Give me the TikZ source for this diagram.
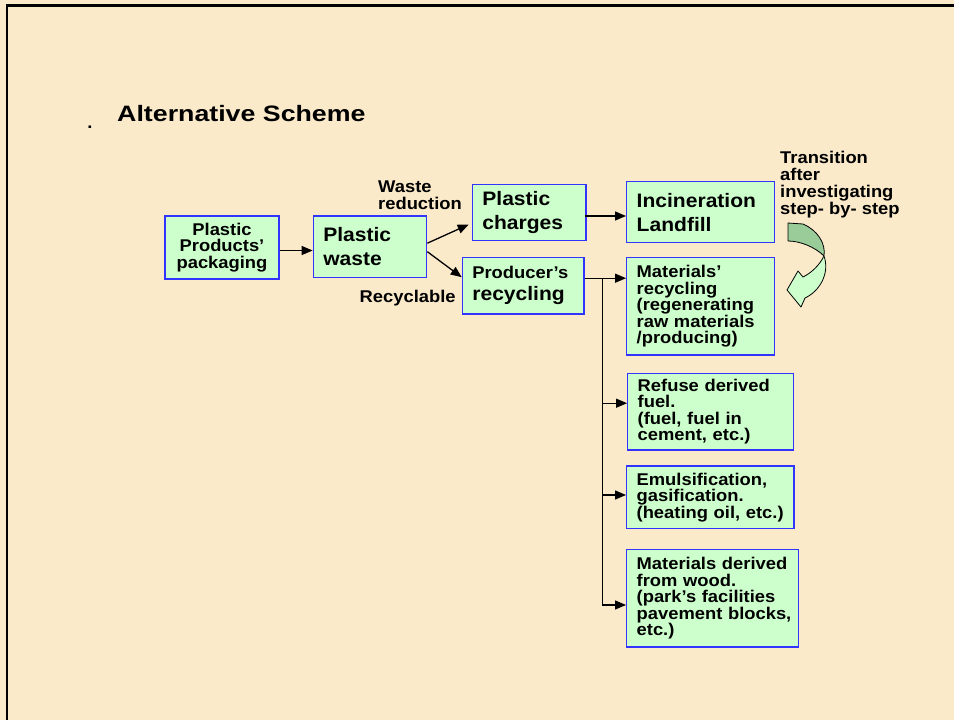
\documentclass[tikz,border=0pt]{standalone}
\usepackage{fontspec}
\setmainfont{Liberation Sans}[FakeStretch=1.08]
\newfontfamily\titlefont{Liberation Sans}[FakeStretch=1.2]
\usetikzlibrary{arrows.meta,calc}
\definecolor{parch}{RGB}{250,234,202}
\definecolor{boxblue}{RGB}{51,51,255}
\definecolor{boxgreen}{RGB}{204,255,204}
\definecolor{ribdark}{RGB}{153,204,153}
\begin{document}
\begin{tikzpicture}[x=1pt,y=-1pt,
 box/.style={draw=boxblue, fill=boxgreen, line width=1.3pt, inner xsep=10pt, inner ysep=0pt, align=left, font=\bfseries\fontsize{17}{16.5}\selectfont},
 bigtxt/.style={font=\bfseries\fontsize{19.5}{24}\selectfont},
 lbl/.style={inner sep=0pt, align=left, font=\bfseries\fontsize{17}{16.5}\selectfont},
 conn/.style={draw=black, line width=1.3pt, -{Triangle[length=11pt,width=9pt]}},
 trunk/.style={draw=black, line width=1.3pt},
 ribbon/.style={draw=black, line width=0.8pt, line join=round}]

\fill[parch] (0,0) rectangle (954,720);
\useasboundingbox (0,0) rectangle (954,720);
\draw[line width=2.5pt] (7,725) -- (7,5.5) -- (960,5.5);

% title
\node[anchor=base west, inner sep=0pt, font=\titlefont\bfseries\fontsize{22.3}{26}\selectfont] (title) at (117,121.7) {Alternative Scheme};
\node[anchor=base, inner sep=0pt, font=\bfseries\fontsize{17}{18}\selectfont] (dot) at (90,128) {.};

% boxes
\node[box, align=center, minimum width=114, minimum height=63, text width=94pt] (b1) at (222,247.5) {Plastic\\Products'\\packaging};
\node[box, bigtxt, minimum width=113.4, minimum height=61.3, text width=93.4pt] (b2) at (370,246.7) {Plastic\\waste};
\node[box, bigtxt, minimum width=113.7, minimum height=56.4, text width=93.7pt] (b3) at (529.2,212.5) {Plastic\\charges};
\node[box, bigtxt, minimum width=147.6, minimum height=61, text width=127.6pt] (b4) at (700.5,212.2) {Incineration\\Landfill};
\node[box, bigtxt, minimum width=121.7, minimum height=56.7, text width=101.7pt] (b5) at (523.2,285.7) {{\fontsize{17}{16.5}\selectfont Producer's}\\[-2pt]recycling};
\node[box, minimum width=147.6, minimum height=97.7, text width=127.6pt] (b6) at (700.5,306.2) {Materials'\\recycling\\(regenerating\\raw materials\\/producing)};
\node[box, minimum width=165.6, minimum height=76.7, text width=145.6pt] (b7) at (710.5,411.7) {Refuse derived\\fuel.\\(fuel, fuel in\\cement, etc.)};
\node[box, minimum width=167.3, minimum height=62.3, text width=147.3pt] (b8) at (710.3,497.2) {Emulsification,\\gasification.\\\mbox{(heating oil, etc.)}};
\node[box, minimum width=171.6, minimum height=97.7, text width=151.6pt] (b9) at (712.5,598.2) {\mbox{Materials derived}\\from wood.\\(park's facilities\\\mbox{pavement blocks,}\\etc.)};

% labels
\node[lbl, anchor=north west] (lwaste) at (378,181) {Waste\\reduction};
\node[lbl, anchor=base west] (lrec) at (359.5,302.3) {Recyclable};
\node[lbl, anchor=north west, font=\bfseries\fontsize{17}{17}\selectfont] (ltrans) at (780,150.5) {Transition\\after\\investigating\\step- by- step};

% connectors
\draw[conn] ($(b1.east)+(0,3)$) -- ($(b2.west)+(0,3.8)$);
\draw[conn] ($(b2.east)+(0,-3.5)$) -- ($(b3.west)+(-3,12)$);
\draw[conn] ($(b2.east)+(0,5)$) -- ($(b5.west)+(0,-8.5)$);
\draw[conn] ($(b3.east)+(-2,3.5)$) -- ($(b4.west)+(0,3.8)$);
\draw[conn] ($(b5.east)+(0,-7.5)$) -- ($(b6.west)+(0,-28)$);
\coordinate (j0) at ($(b5.east)+(18,-7.5)$);
\coordinate (j9) at ($(j0 |- b9.west)+(0,6.8)$);
\draw[trunk] (j0) -- (j9);
\draw[conn] (j0) |- ($(b7.west)+(0,-8.5)$);
\draw[conn] (j0) |- ($(b8.west)+(0,-2.2)$);
\draw[conn] (j0) |- ($(b9.west)+(0,6.8)$);

% curved ribbon arrow
\filldraw[ribbon, fill=ribdark] (788,223) -- (803,224) .. controls (817,230) and (826,243) .. (824,256) .. controls (815,247) and (800,241) .. (788,241) -- cycle;
\filldraw[ribbon, fill=boxgreen] (824,256) .. controls (819,266) and (811,273) .. (803,277) -- (798,271) -- (787,290) -- (801,307) -- (805,298) .. controls (820,291) and (830,273) .. (824,256) -- cycle;
\end{tikzpicture}
\end{document}
